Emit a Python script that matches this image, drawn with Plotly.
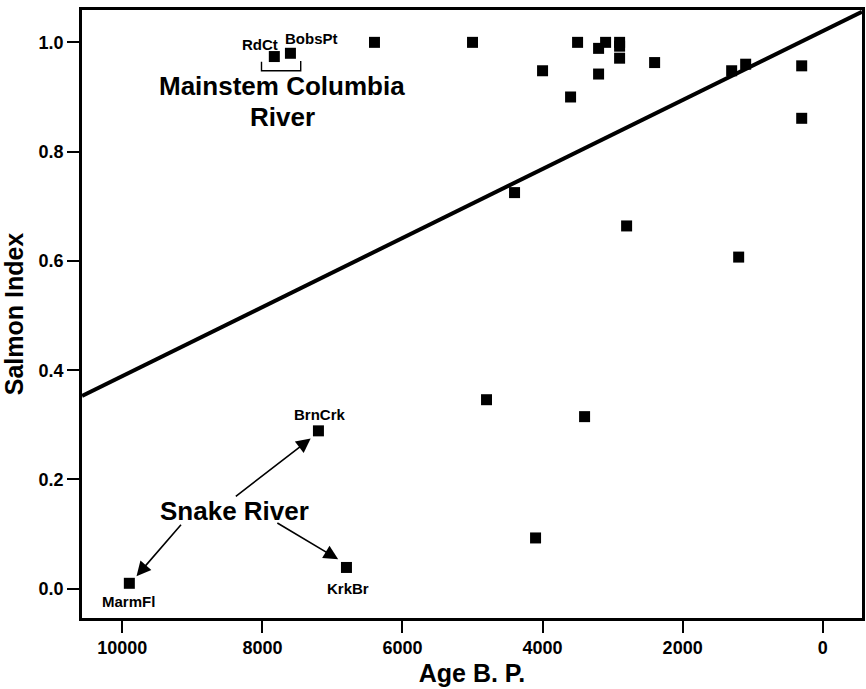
import plotly.graph_objects as go

# Radiocarbon age (years B.P.) and salmon index for each site
ages = [7830, 7600, 6400, 5000, 3500, 4000, 3600, 3200, 3100, 2900, 2900, 2900,
        3200, 2400, 1300, 1100, 300, 300, 4400, 2800, 1200, 4800, 3400, 4100,
        7200, 6800, 9900]
salmon_index = [0.974, 0.980, 1.0, 1.0, 1.0, 0.948, 0.900, 0.989, 1.0, 1.0, 0.993,
                0.971, 0.942, 0.963, 0.948, 0.960, 0.957, 0.861, 0.725, 0.664,
                0.607, 0.346, 0.315, 0.093, 0.289, 0.039, 0.010]

# Named sites (index into the arrays above) and label offsets in pixels
site_names = ["RdCt", "BobsPt", "BrnCrk", "KrkBr", "MarmFl"]
site_rows = [0, 1, 24, 25, 26]
site_xshift = [-14, 21, 2, 2, -1]
site_yshift = [12, 15, 16, -21, -18]

# Linear trend of salmon index against age
fit_intercept = 1.0206
fit_slope = -6.312e-5

x_range = [10576, -561]
y_range = [-0.0535, 1.0592]

x_ticks = [10000, 8000, 6000, 4000, 2000, 0]
y_ticks = [0.0, 0.2, 0.4, 0.6, 0.8, 1.0]

FONT = "Liberation Sans, Arial, Helvetica, sans-serif"

fig = go.Figure()

fig.add_trace(go.Scatter(
    x=x_range,
    y=[fit_intercept + fit_slope * a for a in x_range],
    mode="lines",
    line=dict(color="black", width=4),
    hoverinfo="skip",
    cliponaxis=True,
))

fig.add_trace(go.Scatter(
    x=ages, y=salmon_index, mode="markers",
    marker=dict(symbol="square", size=11, color="black", line=dict(width=0)),
))

annotations = []
for name, row, dx, dy in zip(site_names, site_rows, site_xshift, site_yshift):
    annotations.append(dict(
        x=ages[row], y=salmon_index[row], text=name, showarrow=False,
        xshift=dx, yshift=dy,
        font=dict(family=FONT, size=15, color="black", weight="bold"),
    ))

# Group labels
annotations += [
    dict(x=7718, y=0.920, text="Mainstem Columbia", showarrow=False,
         font=dict(family=FONT, size=26, color="black", weight="bold")),
    dict(x=7718, y=0.863, text="River", showarrow=False,
         font=dict(family=FONT, size=26, color="black", weight="bold")),
    dict(x=8401, y=0.143, text="Snake River", showarrow=False,
         font=dict(family=FONT, size=26, color="black", weight="bold")),
]

# Arrows from the Snake River label to its three sites: (head x, head y, tail x, tail y)
snake_arrows = [
    (7311, 0.275, 8401, 0.167),
    (9798, 0.023, 9144, 0.120),
    (6918, 0.054, 7808, 0.122),
]
for hx, hy, tx, ty in snake_arrows:
    annotations.append(dict(
        x=hx, y=hy, ax=tx, ay=ty, xref="x", yref="y", axref="x", ayref="y",
        text="", showarrow=True, arrowhead=2, arrowsize=1.8, arrowwidth=1.6,
        arrowcolor="black",
    ))

fig.update_layout(
    width=866, height=689,
    margin=dict(l=82, r=1, t=10, b=71),
    paper_bgcolor="white", plot_bgcolor="white",
    showlegend=False,
    annotations=annotations,
    shapes=[dict(
        type="path", xref="x", yref="y",
        path="M 8013 0.9645 L 8013 0.948 L 7453 0.948 L 7453 0.966",
        line=dict(color="black", width=1.4),
    )],
    xaxis=dict(
        range=x_range, tickvals=x_ticks, tickformat="d",
        showgrid=False, zeroline=False,
        showline=True, mirror=True, linecolor="black", linewidth=2.5,
        ticks="outside", ticklen=12, tickwidth=2, tickcolor="black",
        tickfont=dict(family=FONT, size=18, color="black", weight="bold"),
        title=dict(text="Age B. P.", standoff=8,
                   font=dict(family=FONT, size=25, color="black", weight="bold")),
    ),
    yaxis=dict(
        range=y_range, tickvals=y_ticks, tickformat=".1f",
        showgrid=False, zeroline=False,
        showline=True, mirror=True, linecolor="black", linewidth=2.5,
        ticks="outside", ticklen=12, tickwidth=2, tickcolor="black",
        tickfont=dict(family=FONT, size=18, color="black", weight="bold"),
        title=dict(text="Salmon Index", standoff=10,
                   font=dict(family=FONT, size=25, color="black", weight="bold")),
    ),
)

fig.write_html("out.html")
